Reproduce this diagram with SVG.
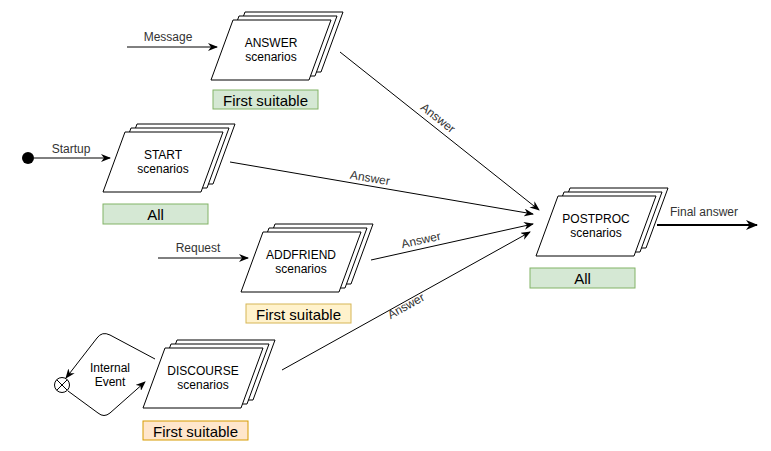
<svg xmlns="http://www.w3.org/2000/svg" xmlns:xlink="http://www.w3.org/1999/xlink" width="771" height="451" viewBox="0 0 771 451">
<style>
  .pg { fill: #ffffff; stroke: #000000; stroke-width: 1; }
  .t { font-family: "Liberation Sans", Arial, sans-serif; font-size: 12px; fill: #000000; text-anchor: middle; }
  .el { font-family: "Liberation Sans", Arial, sans-serif; font-size: 12px; fill: #333333; text-anchor: middle; dominant-baseline: central; }
  .lb { font-family: "Liberation Sans", Arial, sans-serif; font-size: 15px; fill: #000000; text-anchor: middle; dominant-baseline: central; }
  .edge { fill: none; stroke: #000000; stroke-width: 1; }
  .green { fill: #d5e8d4; stroke: #82b366; }
  .yellow { fill: #fff2cc; stroke: #d6b656; }
  .orange { fill: #ffe6cc; stroke: #d79b00; }
</style>
<defs>
  <path id="pg" d="M0,60 L22,0 L120,0 L98,60 Z"/>
  <g id="stack">
    <use xlink:href="#pg" href="#pg" class="pg" x="12" y="-8"/>
    <use xlink:href="#pg" href="#pg" class="pg" x="6" y="-4"/>
    <use xlink:href="#pg" href="#pg" class="pg" x="0" y="0"/>
  </g>
  <marker id="arr" viewBox="0 0 10 8" markerWidth="10" markerHeight="8" refX="9" refY="4" orient="auto" markerUnits="userSpaceOnUse">
    <path d="M0,0 L10,4 L0,8 L3,4 Z" fill="#000000"/>
  </marker>
  <marker id="arrB" viewBox="0 0 12 10" markerWidth="12" markerHeight="10" refX="11" refY="5" orient="auto" markerUnits="userSpaceOnUse">
    <path d="M0,0 L12,5 L0,10 L3.5,5 Z" fill="#000000"/>
  </marker>
</defs>
<rect width="771" height="451" fill="#ffffff"/>

<g id="connectors">
  <line class="edge" x1="127" y1="47" x2="217" y2="47" marker-end="url(#arr)"/>
  <text class="el" x="168" y="37">Message</text>
  <circle cx="28" cy="158" r="6" fill="#000000"/>
  <line class="edge" x1="34" y1="158" x2="110" y2="158" marker-end="url(#arr)"/>
  <text class="el" x="71" y="149">Startup</text>
  <line class="edge" x1="158" y1="258" x2="248" y2="258" marker-end="url(#arr)"/>
  <text class="el" x="198" y="248">Request</text>

  <line class="edge" x1="340" y1="52" x2="539" y2="210" marker-end="url(#arr)"/>
  <text class="el" transform="translate(438,118) rotate(38.4)">Answer</text>
  <line class="edge" x1="230" y1="162" x2="533" y2="214" marker-end="url(#arr)"/>
  <text class="el" transform="translate(370,178) rotate(9.6)">Answer</text>
  <line class="edge" x1="371" y1="260" x2="533" y2="224" marker-end="url(#arr)"/>
  <text class="el" transform="translate(421,240) rotate(-12.5)">Answer</text>
  <line class="edge" x1="282" y1="370" x2="530" y2="232" marker-end="url(#arr)"/>
  <text class="el" transform="translate(406,306) rotate(-29)">Answer</text>

  <line x1="657" y1="225" x2="757" y2="225" stroke="#000000" stroke-width="2" marker-end="url(#arrB)"/>
  <text class="el" x="704" y="212">Final answer</text>

  <path class="edge" d="M155,359 L110,335 Q102,331 97,338 L66,378" marker-end="url(#arr)"/>
  <path class="edge" d="M68,391 L98,413 Q104,418 110,413 L145,382" marker-end="url(#arr)"/>
  <text class="t" x="110" y="372">Internal</text>
  <text class="t" x="110" y="386">Event</text>
</g>

<g id="node-answer">
  <use xlink:href="#stack" href="#stack" x="211" y="20"/>
  <text class="t" x="271" y="47">ANSWER</text>
  <text class="t" x="271" y="61">scenarios</text>
</g>
<g id="label-answer">
  <rect class="green" x="213" y="90" width="105" height="19"/>
  <text class="lb" x="265.5" y="100">First suitable</text>
</g>

<g id="node-start">
  <use xlink:href="#stack" href="#stack" x="103" y="132"/>
  <text class="t" x="163" y="159">START</text>
  <text class="t" x="163" y="173">scenarios</text>
</g>
<g id="label-start">
  <rect class="green" x="103" y="204" width="105" height="20"/>
  <text class="lb" x="155.5" y="214.5">All</text>
</g>

<g id="node-addfriend">
  <use xlink:href="#stack" href="#stack" x="241" y="232"/>
  <text class="t" x="301" y="259">ADDFRIEND</text>
  <text class="t" x="301" y="273">scenarios</text>
</g>
<g id="label-addfriend">
  <rect class="yellow" x="246" y="304" width="105" height="19"/>
  <text class="lb" x="298.5" y="314">First suitable</text>
</g>

<g id="node-discourse">
  <use xlink:href="#stack" href="#stack" x="143" y="348"/>
  <text class="t" x="203" y="375">DISCOURSE</text>
  <text class="t" x="203" y="389">scenarios</text>
</g>
<g id="label-discourse">
  <rect class="orange" x="143" y="421" width="105" height="19"/>
  <text class="lb" x="195.5" y="431">First suitable</text>
</g>

<g id="node-end">
  <circle cx="62" cy="385" r="7.5" fill="#ffffff" stroke="#000000"/>
  <line x1="56.7" y1="379.7" x2="67.3" y2="390.3" stroke="#000000"/>
  <line x1="67.3" y1="379.7" x2="56.7" y2="390.3" stroke="#000000"/>
</g>

<g id="node-postproc">
  <use xlink:href="#stack" href="#stack" x="536" y="196"/>
  <text class="t" x="596" y="223">POSTPROC</text>
  <text class="t" x="596" y="237">scenarios</text>
</g>
<g id="label-postproc">
  <rect class="green" x="530" y="268" width="105" height="20"/>
  <text class="lb" x="582.5" y="278.5">All</text>
</g>
</svg>
